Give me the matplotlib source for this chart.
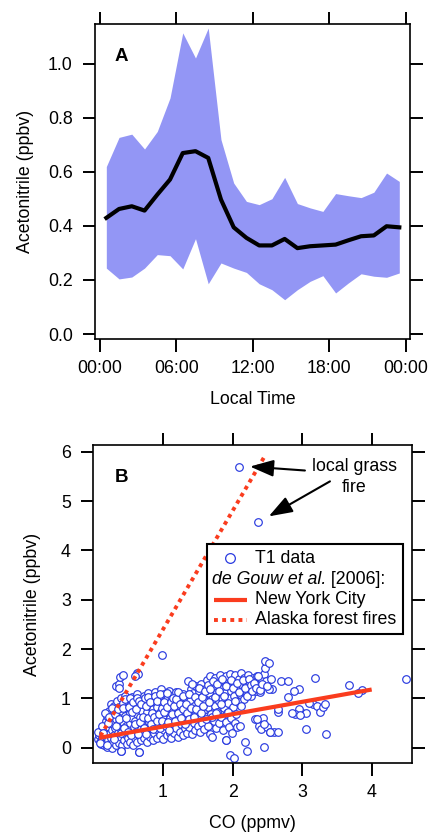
import matplotlib
matplotlib.use("Agg")
import matplotlib.pyplot as plt
from matplotlib.patches import Rectangle
from matplotlib.lines import Line2D

plt.rcParams['font.family'] = ['Liberation Sans', 'DejaVu Sans']

# ---- panel A: diurnal acetonitrile ----
hours = [0.5, 1.5, 2.5, 3.5, 4.5, 5.5, 6.5, 7.5, 8.5, 9.5, 10.5, 11.5,
         12.5, 13.5, 14.5, 15.5, 16.5, 17.5, 18.5, 19.5, 20.5, 21.5, 22.5, 23.5]
acn_mean = [0.43, 0.463, 0.473, 0.457, 0.516, 0.572, 0.67, 0.677, 0.652, 0.498, 0.395, 0.356,
            0.328, 0.328, 0.352, 0.318, 0.325, 0.328, 0.331, 0.347, 0.362, 0.365, 0.399, 0.395]
acn_upper = [0.62, 0.728, 0.74, 0.685, 0.75, 0.874, 1.115, 1.022, 1.133, 0.72, 0.559, 0.491,
             0.479, 0.501, 0.58, 0.483, 0.467, 0.454, 0.52, 0.512, 0.505, 0.525, 0.596, 0.565]
acn_lower = [0.244, 0.204, 0.211, 0.244, 0.294, 0.29, 0.241, 0.353, 0.186, 0.263, 0.244, 0.228,
             0.186, 0.164, 0.127, 0.164, 0.195, 0.216, 0.152, 0.189, 0.223, 0.214, 0.21, 0.226]
time_ticks = [0, 6, 12, 18, 24]
time_labels = ["00:00", "06:00", "12:00", "18:00", "00:00"]

# ---- panel B: acetonitrile vs CO (T1 data) ----
co_ppmv = [
    0.06, 0.08, 0.09, 0.10, 0.11, 0.12, 0.13, 0.14, 0.15, 0.15, 0.16, 0.17, 0.18, 0.18, 0.19, 0.20, 0.20, 0.21,
    0.22, 0.22, 0.23, 0.24, 0.24, 0.25, 0.25, 0.26, 0.27, 0.27, 0.28, 0.28, 0.29, 0.30, 0.30, 0.31, 0.32, 0.32,
    0.33, 0.34, 0.34, 0.35, 0.36, 0.36, 0.37, 0.38, 0.38, 0.39, 0.40, 0.40, 0.41, 0.41, 0.42, 0.43, 0.43, 0.44,
    0.45, 0.46, 0.46, 0.47, 0.48, 0.48, 0.49, 0.50, 0.50, 0.51, 0.52, 0.53, 0.53, 0.54, 0.55, 0.56, 0.56, 0.57,
    0.58, 0.58, 0.59, 0.60, 0.60, 0.61, 0.62, 0.63, 0.63, 0.64, 0.65, 0.66, 0.66, 0.67, 0.68, 0.68, 0.69, 0.70,
    0.70,
    0.71, 0.72, 0.73, 0.73, 0.74, 0.75, 0.76, 0.77, 0.77, 0.78, 0.79, 0.80, 0.80, 0.81, 0.82, 0.83, 0.84, 0.85,
    0.85, 0.86, 0.87, 0.88, 0.89, 0.90, 0.90, 0.91, 0.92, 0.93, 0.94, 0.95, 0.96, 0.97, 0.97, 0.98, 0.99, 1.00,
    1.00, 1.01, 1.02, 1.03, 1.04, 1.05, 1.06, 1.07, 1.08, 1.08, 1.09, 1.10, 1.10,
    1.11, 1.12, 1.13, 1.14, 1.15, 1.16, 1.17, 1.18, 1.19, 1.20, 1.21, 1.22, 1.23, 1.24, 1.25, 1.26, 1.27, 1.28,
    1.29, 1.30, 1.31, 1.32, 1.33, 1.34, 1.35, 1.36, 1.37, 1.38, 1.39, 1.40, 1.41, 1.42, 1.43, 1.44, 1.45, 1.46,
    1.47, 1.48, 1.49, 1.50,
    1.51, 1.52, 1.53, 1.54, 1.55, 1.56, 1.57, 1.58, 1.59, 1.60, 1.61, 1.62, 1.63, 1.64, 1.65, 1.66, 1.67, 1.68,
    1.69, 1.70, 1.71, 1.72, 1.73, 1.74, 1.75, 1.76, 1.77, 1.78, 1.79, 1.80, 1.81, 1.82, 1.83, 1.84, 1.85, 1.86,
    1.87, 1.88, 1.89, 1.90, 1.90, 1.91, 1.92, 1.93, 1.94, 1.95, 1.96, 1.97, 1.98, 1.99, 2.00,
    2.01, 2.02, 2.03, 2.04, 2.05, 2.06, 2.07, 2.08, 2.09, 2.10, 2.11, 2.12, 2.13, 2.14, 2.16, 2.17, 2.19, 2.20,
    2.22, 2.24, 2.25, 2.27, 2.29, 2.30, 2.32, 2.33, 2.35, 2.37, 2.38, 2.40, 2.41, 2.42, 2.44, 2.45, 2.46, 2.47,
    2.48, 2.50, 2.52, 2.54, 2.56, 2.60,
    2.09, 2.36, 0.98, 4.49, 3.68, 3.86, 3.80, 3.18, 2.96, 2.89, 2.79, 2.70, 2.80, 2.53, 3.05, 3.34, 2.45, 2.21,
    2.18, 1.96, 2.02, 1.90, 2.66, 2.54, 2.45, 2.35, 0.66, 0.40, 0.33, 0.36, 0.38, 0.42, 0.37, 0.62, 0.64, 0.60,
    3.00, 3.06, 3.15, 3.22, 3.25, 3.30, 3.33, 3.10, 2.95, 2.90, 2.85, 2.65, 2.65, 2.97,
    # second pass through the dense part of the cloud
    0.07, 0.10, 0.12, 0.14, 0.17, 0.19, 0.21, 0.23, 0.26, 0.29, 0.31, 0.33, 0.35, 0.37, 0.39, 0.42, 0.44, 0.45,
    0.47, 0.49, 0.51, 0.52, 0.54, 0.55, 0.57, 0.59, 0.61, 0.62, 0.64, 0.65, 0.67, 0.69, 0.71, 0.72, 0.74, 0.75,
    0.76, 0.78, 0.79, 0.81, 0.83, 0.84, 0.86, 0.87, 0.88, 0.91, 0.92, 0.94, 0.95, 0.96, 0.98, 0.99, 1.01, 1.02,
    1.04, 1.05, 1.06, 1.07, 1.09, 1.11, 1.13, 1.14, 1.16, 1.17, 1.19, 1.21, 1.22, 1.24, 1.26, 1.28, 1.29, 1.31,
    1.33, 1.35, 1.37, 1.38, 1.40, 1.42, 1.44, 1.46, 1.48, 1.50, 1.52, 1.54, 1.56, 1.58, 1.60, 1.62, 1.64, 1.66,
    1.68, 1.70, 1.72, 1.74, 1.76, 1.78, 1.80, 1.83, 1.85, 1.88, 1.91, 1.94, 1.97, 2.00, 2.03, 2.06, 2.09, 2.12,
    2.15, 2.18, 2.21, 2.23, 2.26, 2.28, 2.31, 2.34, 2.36, 2.39, 2.43, 2.49, 2.55,
]
acn_ppbv = [
    0.18, 0.25, 0.12, 0.30, 0.08, 0.20, 0.38, 0.15, 0.05, 0.28, 0.45, 0.10, 0.22, 0.55, 0.35, 0.02, 0.65, 0.15,
    0.42, 0.28, 0.75, 0.08, 0.55, 0.20, 0.88, 0.35, 0.62, 0.00, 0.48, 0.12, 0.72, 0.25, 0.85, 0.40, 0.05, 0.58,
    0.18, 0.70, 0.95, 0.30, 0.50, 0.10, 0.82, 0.40, 0.62, 0.22, -0.06, 1.00, 0.05, 0.75, 0.35, 0.52, 0.90, 0.15,
    0.65, 0.28, 1.05, 0.45, 0.80, 0.08, 0.58, 0.20, 0.95, 0.38, 0.70, 0.12, 0.50, 0.88, 0.30, 1.02, 0.60, 0.05,
    0.42, 0.78, 0.20, 0.92, 0.55, 0.32, 0.68, 0.12, 1.08, 0.45, 0.85, 0.25, -0.08, 0.62, 0.98, 0.38, 0.15, 0.75,
    0.50,
    0.30, 1.05, 0.88, 0.20, 0.60, 0.42, 0.95, 0.12, 0.72, 0.32, 1.10, 0.52, 0.85, 0.22, 0.65, 0.40, 1.00, 0.15,
    0.78, 0.55, 0.30, 0.92, 1.12, 0.45, 0.68, 0.20, 0.82, 0.35, 1.02, 0.58, 0.25, 0.75, 1.20, 0.45, 0.90, 0.18,
    0.62, 1.08, 0.35, 0.80, 0.52, 0.98, 0.25, 0.70, 1.15, 0.42, 0.88, 0.60, 0.30,
    1.05, 0.20, 0.78, 0.48, 0.95, 0.30, 0.65, 1.12, 0.40, 0.85, 0.22, 0.58, 1.00, 0.32, 0.72, 0.48, 0.90, 1.08,
    0.25, 0.62, 0.40, 0.82, 1.00, 0.30, 0.55, 1.35, 0.75, 0.42, 0.95, 1.20, 0.28, 0.65, 1.10, 0.50, 0.85, 0.35,
    1.25, 0.72, 0.98, 0.45,
    1.15, 0.60, 0.32, 0.88, 1.30, 0.50, 1.05, 0.75, 0.38, 1.20, 0.95, 0.62, 1.38, 0.45, 0.82, 1.10, 0.28, 1.45,
    0.68, 0.98, 0.22, 1.25, 0.55, 0.85, 1.42, 0.40, 1.12, 0.72, 1.32, 0.95, 0.50, 1.48, 1.20, 0.62, 1.00, 0.35,
    1.38, 0.80, 1.10, 0.16, 0.52, 1.45, 0.70, 1.28, 0.90, 0.42, 1.50, 1.15, 0.60, 0.30, 0.82,
    1.35, 1.05, 0.50, 1.48, 0.68, 1.20, 0.42, 0.92, 1.40, 1.08, 0.45, 1.52, 1.28, 1.15, 0.98, 1.42, 1.25, 1.10,
    1.48, 1.35, 1.20, 1.05, 1.42, 1.30, 0.58, 1.15, 1.45, 1.28, 0.45, 1.12, 0.38, 1.38, 0.60, 1.50, 1.62, 1.75,
    1.35, 0.42, 1.72, 0.32, 1.20, 0.32,
    5.70, 4.58, 1.87, 1.39, 1.28, 1.18, 1.10, 1.42, 1.20, 1.14, 1.03, 1.35, 1.35, 1.20, 0.37, 0.28, 0.02, -0.07,
    0.12, -0.15, -0.20, 0.16, 0.32, 0.32, 0.48, 0.58, -0.08, -0.06, 1.25, 1.30, 1.44, 1.47, 1.22, 1.52, 1.50, 1.45,
    0.70, 0.71, 0.88, 0.84, 0.73, 0.82, 0.88, 0.90, 0.78, 0.68, 0.70, 0.72, 0.78, 0.66,
    0.32, 0.10, 0.45, 0.30, 0.70, 0.05, 0.50, 0.62, 0.80, 0.18, 0.68, 0.45, 0.78, 0.58, 0.30, 0.80, 0.40, 0.98,
    0.60, 0.32, 0.82, 1.00, 0.25, 0.72, 0.92, 0.48, 0.78, 1.00, 0.28, 0.95, 0.52, 0.88, 0.62, 0.40, 1.00, 0.85,
    0.28, 0.60, 1.02, 0.92, 0.48, 0.70, 0.38, 0.62, 1.05, 0.95, 0.55, 0.68, 0.40, 1.08, 0.80, 0.55, 0.92, 0.72,
    0.45, 0.82, 1.10, 0.52, 0.35, 0.92, 0.68, 1.00, 0.85, 0.55, 0.98, 0.70, 1.12, 0.88, 0.60, 0.78, 1.05, 0.48,
    0.88, 0.70, 1.08, 0.58, 0.80, 1.30, 0.62, 1.02, 0.78, 0.92, 1.22, 0.70, 1.02, 0.85, 1.15, 0.58, 1.28, 0.92,
    1.20, 0.62, 1.35, 1.02, 0.70, 1.30, 1.15, 0.88, 1.40, 1.05, 1.25, 0.72, 1.38, 1.22, 0.95, 1.32, 1.12, 0.85,
    1.38, 1.22, 1.05, 1.40, 1.28, 1.15, 1.32, 1.22, 1.45, 1.18, 1.30, 1.25, 1.40,
]

# de Gouw et al. [2006] emission ratio lines
nyc_co = [0.08, 4.0]
nyc_acn = [0.20, 1.18]
alaska_co = [0.10, 2.47]
alaska_acn = [0.24, 5.93]

red = '#fa3c1e'
blue = '#2a3be0'
fs = 12.8

fig = plt.figure(figsize=(4.3, 8.35), dpi=100)

# ---------- panel A ----------
ax1 = fig.add_axes([0.2209, 0.594, 0.7326, 0.3773])
ax1.fill_between(hours, acn_lower, acn_upper, color='#9396f5', lw=0)
ax1.plot(hours, acn_mean, color='black', lw=3.0)
ax1.set_xlim(-0.39, 24.34)
ax1.set_ylim(-0.0185, 1.148)
ax1.set_xticks(time_ticks)
ax1.set_xticklabels(time_labels)
ax1.set_yticks([0.0, 0.2, 0.4, 0.6, 0.8, 1.0])
ax1.set_yticklabels(["0.0", "0.2", "0.4", "0.6", "0.8", "1.0"])
ax1.set_xlabel("Local Time", fontsize=fs, labelpad=10)
ax1.set_ylabel("Acetonitrile (ppbv)", fontsize=fs, labelpad=10)
ax1.text(0.063, 0.898, "A", transform=ax1.transAxes, fontsize=13.5, fontweight='bold', va='center')

# ---------- panel B ----------
ax2 = fig.add_axes([0.2163, 0.0862, 0.7419, 0.3808])
ax2.scatter(co_ppmv, acn_ppbv, s=30, facecolors='white', edgecolors=blue, linewidths=0.85, zorder=2)
ax2.plot(nyc_co, nyc_acn, color=red, lw=3.0, solid_capstyle='butt', zorder=3)
ax2.plot(alaska_co, alaska_acn, color=red, lw=2.8, linestyle=(0, (1, 1.1)), zorder=3)
ax2.set_xlim(-0.007, 4.58)
ax2.set_ylim(-0.31, 6.136)
ax2.set_xticks([1, 2, 3, 4])
ax2.set_yticks([0, 1, 2, 3, 4, 5, 6])
ax2.set_xlabel("CO (ppmv)", fontsize=fs, labelpad=10)
ax2.set_ylabel("Acetonitrile (ppbv)", fontsize=fs, labelpad=14)
ax2.text(0.069, 0.899, "B", transform=ax2.transAxes, fontsize=13.5, fontweight='bold', va='center')

ax2.text(3.75, 5.49, "local grass\nfire", fontsize=fs, ha='center', va='center', linespacing=1.3)
arrow = dict(arrowstyle='-|>,head_length=0.9,head_width=0.32', color='black', lw=1.5, mutation_scale=16,
             shrinkA=0, shrinkB=0)
ax2.annotate("", xy=(2.25, 5.70), xytext=(3.04, 5.62), arrowprops=arrow)
ax2.annotate("", xy=(2.52, 4.69), xytext=(3.40, 5.40), arrowprops=arrow)

# hand-built legend box
tr = ax2.transAxes
ax2.add_patch(Rectangle((0.357, 0.406), 0.615, 0.283, transform=tr, facecolor='white',
                        edgecolor='black', lw=1.5, zorder=5))
ax2.add_line(Line2D([0.429], [0.644], transform=tr, marker='o', markersize=7, mfc='white',
                    mec=blue, mew=0.9, ls='none', zorder=6))
ax2.add_line(Line2D([0.378, 0.483], [0.513, 0.513], transform=tr, color=red, lw=3.0,
                    solid_capstyle='butt', zorder=6))
ax2.add_line(Line2D([0.378, 0.483], [0.450, 0.450], transform=tr, color=red, lw=2.8,
                    ls=(0, (1, 1.1)), zorder=6))
ax2.text(0.508, 0.644, "T1 data", transform=tr, fontsize=fs, va='center', zorder=7)
ref = ax2.text(0.372, 0.577, "de Gouw et al.", transform=tr, fontsize=fs, style='italic',
               va='center', zorder=7)
ax2.annotate(" [2006]:", xy=(1, 0.5), xycoords=ref, fontsize=fs, va='center', ha='left', zorder=7)
ax2.text(0.508, 0.513, "New York City", transform=tr, fontsize=fs, va='center', zorder=7)
ax2.text(0.508, 0.450, "Alaska forest fires", transform=tr, fontsize=fs, va='center', zorder=7)

for ax in (ax1, ax2):
    for sp in ax.spines.values():
        sp.set_linewidth(1.2)
    ax.tick_params(direction='out', length=9, width=1.4, labelsize=fs, pad=6,
                   top=True, right=True, labeltop=False, labelright=False)
    ax.tick_params(axis='y', pad=7)

fig.savefig("out.png", dpi=100)
